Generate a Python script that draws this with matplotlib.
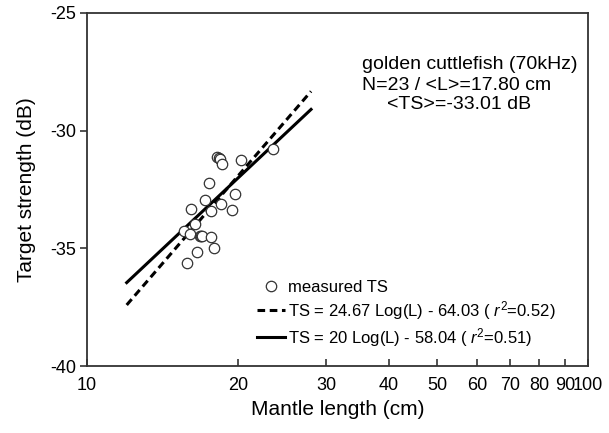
import matplotlib

matplotlib.use("Agg")

import numpy as np
import matplotlib.pyplot as plt
from matplotlib.ticker import FixedLocator, FixedFormatter, NullLocator

plt.rcParams["font.family"] = ["Liberation Sans", "DejaVu Sans"]
plt.rcParams["mathtext.fontset"] = "custom"
plt.rcParams["mathtext.rm"] = "Liberation Sans"
plt.rcParams["mathtext.it"] = "Liberation Sans:italic"
plt.rcParams["axes.unicode_minus"] = False

# mantle length (cm) and measured target strength (dB)
length_cm = [18.17, 18.3, 18.45, 18.60, 20.32, 23.55, 17.48, 19.77, 17.22, 18.54,
             16.14, 17.68, 19.47, 15.63, 16.07, 16.44, 16.77, 16.85, 16.96, 17.68,
             17.89, 16.54, 15.83]
ts_db = [-31.13, -31.15, -31.20, -31.42, -31.25, -30.79, -32.21, -32.68, -32.96, -33.13,
         -33.34, -33.41, -33.37, -34.25, -34.41, -33.97, -34.46, -34.47, -34.48, -34.51,
         -34.97, -35.14, -35.64]

# fitted relations TS = a Log(L) + b
fit_free = (24.67, -64.03)
fit_20 = (20.0, -58.04)
fit_range = (12, 28)

xticks = [10, 20, 30, 40, 50, 60, 70, 80, 90, 100]
yticks = [-40, -35, -30, -25]

fig = plt.figure(figsize=(6.09, 4.33), dpi=100)
ax = fig.add_axes([0.1429, 0.1547, 0.8226, 0.8153])

ax.plot(length_cm, ts_db, "o", ms=7.5, mfc="white", mec="#333333", mew=0.9,
        label="measured TS", zorder=3)

L = np.linspace(fit_range[0], fit_range[1], 50)
ax.plot(L, fit_free[0] * np.log10(L) + fit_free[1], color="black", lw=2.2,
        ls=(0, (2.5, 1.5)),
        label=r"TS = 24.67 Log(L) - 64.03 ( $\mathit{r}^2$=0.52)")
ax.plot(L, fit_20[0] * np.log10(L) + fit_20[1], color="black", lw=2.2,
        label=r"TS = 20 Log(L) - 58.04 ( $\mathit{r}^2$=0.51)")

ax.set_xscale("log")
ax.set_xlim(10, 100)
ax.set_ylim(-40, -25)
ax.xaxis.set_major_locator(FixedLocator(xticks))
ax.xaxis.set_major_formatter(FixedFormatter([str(t) for t in xticks]))
ax.xaxis.set_minor_locator(NullLocator())
ax.set_yticks(yticks)

for s in ax.spines.values():
    s.set_color("#333333")
    s.set_linewidth(1.3)
ax.tick_params(axis="x", direction="in", length=5, width=1.2, color="#333333",
               labelsize=13, pad=8)
ax.tick_params(axis="y", direction="out", length=5, width=1.2, color="#333333",
               labelsize=13, pad=3)

ax.set_xlabel("Mantle length (cm)", fontsize=15, labelpad=4)
ax.set_ylabel("Target strength (dB)", fontsize=15, labelpad=10)

ax.text(0.548, 0.855, "golden cuttlefish (70kHz)", transform=ax.transAxes,
        fontsize=14, va="center", ha="left")
ax.text(0.548, 0.796, "N=23 / <L>=17.80 cm", transform=ax.transAxes,
        fontsize=14, va="center", ha="left")
ax.text(0.598, 0.741, "<TS>=-33.01 dB", transform=ax.transAxes, fontsize=14,
        va="center", ha="left")

ax.legend(loc="lower left", bbox_to_anchor=(0.325, 0.03), frameon=False,
          fontsize=12, handlelength=1.7, handletextpad=0.2, numpoints=1,
          labelspacing=0.25, borderaxespad=0)

fig.savefig("out.png", dpi=100)
